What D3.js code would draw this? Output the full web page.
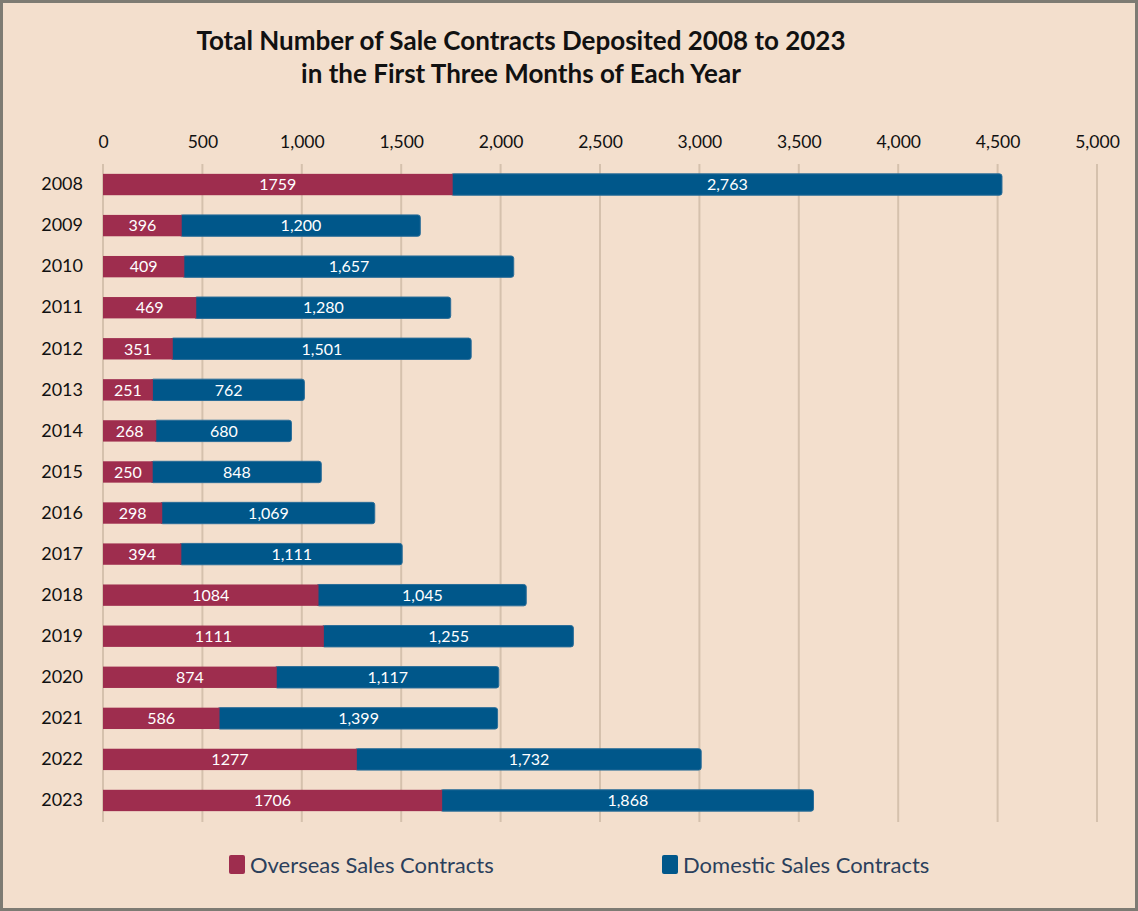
<!DOCTYPE html>
<html>
<head>
<meta charset="utf-8">
<script src="https://cdn.jsdelivr.net/npm/d3@7"></script>
<style>
  html, body { margin: 0; padding: 0; background: #fff; }
  svg { display: block; font-family: Lato, "Open Sans", sans-serif; }
</style>
</head>
<body>
<svg id="chart" width="1138" height="911"></svg>
<script>
var years = ['2008', '2009', '2010', '2011', '2012', '2013', '2014', '2015',
	'2016', '2017', '2018', '2019', '2020', '2021', '2022', '2023'];
var overseas = [1759, 396, 409, 469, 351, 251, 268, 250, 298, 394, 1084, 1111, 874, 586, 1277, 1706];
var domestic = [2763, 1200, 1657, 1280, 1501, 762, 680, 848, 1069, 1111, 1045, 1255, 1117, 1399, 1732, 1868];
var xTicks = [0, 500, 1000, 1500, 2000, 2500, 3000, 3500, 4000, 4500, 5000];
var seriesNames = ['Overseas Sales Contracts', 'Domestic Sales Contracts'];
var colors = ['#9e2d4e', '#00578a'];

var svg = d3.select('#chart');
var W = 1138, H = 911;

// frame
svg.append('rect').attr('x', 1.5).attr('y', 1.5).attr('width', W - 3).attr('height', H - 3)
	.attr('fill', '#f3dfcd').attr('stroke', '#7d7b73').attr('stroke-width', 3);

// title
var title = svg.append('text').attr('text-anchor', 'middle').attr('font-weight', 'bold')
	.attr('font-size', 26).attr('fill', '#111');
title.append('tspan').attr('x', 521).attr('y', 50).text('Total Number of Sale Contracts Deposited 2008 to 2023');
title.append('tspan').attr('x', 521).attr('y', 83).text('in the First Three Months of Each Year');

var x = d3.scaleLinear().domain([0, 5000]).range([103, 1097]);
var y = d3.scaleBand().domain(years).range([164, 821]).paddingInner(0.48).paddingOuter(0.24);

// gridlines
svg.append('g').selectAll('line').data(xTicks).join('line')
	.attr('x1', function (d) {return x(d);}).attr('x2', function (d) {return x(d);})
	.attr('y1', 164).attr('y2', 822)
	.attr('stroke', '#d5c1ad').attr('stroke-width', 2);

// x axis labels on top
var xAxis = d3.axisTop(x).tickValues(xTicks).tickSize(0).tickPadding(0).tickFormat(d3.format(','));
var gx = svg.append('g').attr('transform', 'translate(0,148)').call(xAxis);
gx.select('.domain').remove();
gx.selectAll('text').attr('font-size', 17.5).attr('fill', '#111').attr('font-family', 'Lato, "Open Sans", sans-serif');

// y axis labels
var yAxis = d3.axisLeft(y).tickSize(0).tickPadding(20);
var gy = svg.append('g').attr('transform', 'translate(103,0)').call(yAxis);
gy.select('.domain').remove();
gy.selectAll('text').attr('font-size', 18).attr('fill', '#111').attr('font-family', 'Lato, "Open Sans", sans-serif');

var rows = years.map(function (yr, i) {return {year: yr, o: overseas[i], d: domestic[i]};});
var bars = svg.append('g');

// domestic segment (drawn first, rounded end)
bars.selectAll('.dom').data(rows).join('rect').attr('class', 'dom')
	.attr('x', function (d) {return x(d.o) - 2;})
	.attr('y', function (d) {return y(d.year);})
	.attr('width', function (d) {return x(d.o + d.d) - x(d.o) + 2;})
	.attr('height', y.bandwidth())
	.attr('rx', 2.5)
	.attr('fill', colors[1]).attr('stroke', '#2a6d98').attr('stroke-width', 1);

bars.selectAll('.ovs').data(rows).join('rect').attr('class', 'ovs')
	.attr('x', x(0))
	.attr('y', function (d) {return y(d.year);})
	.attr('width', function (d) {return x(d.o) - x(0);})
	.attr('height', y.bandwidth())
	.attr('fill', colors[0]);

// value labels
bars.selectAll('.ol').data(rows).join('text').attr('class', 'ol')
	.attr('x', function (d) {return (x(0) + x(d.o)) / 2;})
	.attr('y', function (d) {return y(d.year) + y.bandwidth() / 2;})
	.attr('dy', '0.36em').attr('text-anchor', 'middle')
	.attr('font-size', 16).attr('fill', '#fff')
	.text(function (d) {return d.o;});

bars.selectAll('.dl').data(rows).join('text').attr('class', 'dl')
	.attr('x', function (d) {return (x(d.o) + x(d.o + d.d)) / 2;})
	.attr('y', function (d) {return y(d.year) + y.bandwidth() / 2;})
	.attr('dy', '0.36em').attr('text-anchor', 'middle')
	.attr('font-size', 16).attr('fill', '#fff')
	.text(function (d) {return d3.format(',')(d.d);});

// legend
var legendX = [229, 662];
var lg = svg.append('g').selectAll('g').data(seriesNames).join('g')
	.attr('transform', function (d, i) {return 'translate(' + legendX[i] + ',855)';});
lg.append('rect').attr('width', 16).attr('height', 19).attr('rx', 2)
	.attr('fill', function (d, i) {return colors[i];});
lg.append('text').attr('x', 21).attr('y', 10).attr('dy', '0.36em')
	.attr('font-size', 22).attr('fill', '#2b3f5c')
	.text(function (d) {return d;});
</script>
</body>
</html>
